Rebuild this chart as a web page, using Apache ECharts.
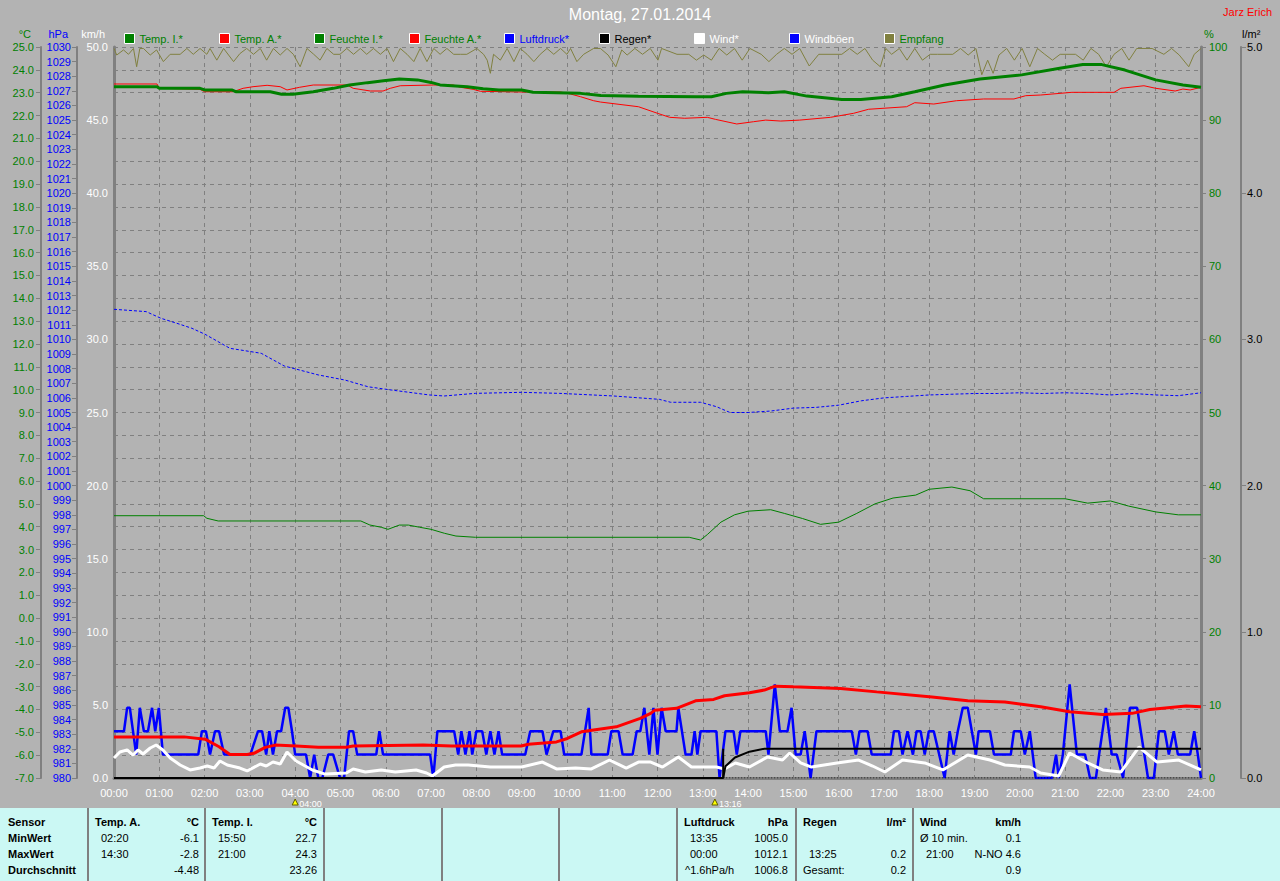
<!DOCTYPE html>
<html><head><meta charset="utf-8">
<script src="https://cdn.jsdelivr.net/npm/echarts@6/dist/echarts.min.js"></script>
<style>html,body{margin:0;padding:0;background:#b3b3b3;}#c{width:1280px;height:881px;}</style>
</head><body><div id="c"></div>
<script>
// ===== DATA =====
const titleText = 'Montag, 27.01.2014';
const ownerText = 'Jarz Erich';
// [hour, °C]
const tempInnen = [[0,23.26],[0.95,23.26],[1.0,23.19],[1.9,23.19],[2.0,23.12],[2.6,23.12],[2.7,23.04],[3.45,23.04],[3.7,22.93],[3.95,22.93],[4.4,23.04],[4.84,23.19],[5.2,23.34],[5.6,23.44],[5.95,23.52],[6.3,23.6],[6.7,23.56],[7.0,23.45],[7.2,23.34],[7.8,23.26],[8.15,23.17],[8.5,23.12],[9.0,23.12],[9.25,23.02],[10.3,22.97],[10.75,22.88],[11.58,22.84],[12.86,22.82],[13.19,22.82],[13.52,22.97],[13.88,23.04],[14.45,23.0],[14.8,23.04],[15.3,22.85],[16.07,22.7],[16.49,22.7],[17.17,22.82],[17.68,23.04],[18.34,23.34],[19.12,23.6],[20.04,23.78],[20.88,24.07],[21.39,24.23],[21.81,24.23],[22.32,23.99],[23.0,23.56],[23.6,23.34],[24.0,23.24]];
const tempAussen = [[0,-5.2],[1.55,-5.2],[2.01,-5.3],[2.32,-5.63],[2.56,-5.97],[2.94,-5.97],[3.09,-5.92],[3.34,-5.66],[3.56,-5.56],[4.02,-5.6],[4.51,-5.65],[5.13,-5.65],[5.28,-5.6],[6.83,-5.56],[7.45,-5.6],[8.99,-5.6],[9.15,-5.52],[9.77,-5.42],[10.01,-5.27],[10.32,-4.98],[11.09,-4.76],[11.62,-4.39],[11.85,-4.17],[11.94,-4.03],[12.42,-3.95],[12.84,-3.62],[13.24,-3.56],[13.48,-3.4],[14.03,-3.27],[14.36,-3.15],[14.6,-2.98],[15.0,-3.01],[16.04,-3.08],[16.84,-3.23],[18.06,-3.45],[18.85,-3.62],[19.67,-3.67],[20.46,-3.88],[21.1,-4.1],[21.83,-4.22],[22.48,-4.17],[22.87,-4.0],[23.67,-3.85],[24,-3.88]];
// [hour, %]
const feuchteInnen = [[0,35.88],[1.98,35.88],[2.05,35.53],[2.3,35.16],[5.45,35.16],[5.65,34.61],[5.9,34.3],[6.05,34.02],[6.3,34.6],[6.5,34.6],[6.75,34.3],[7.0,34.02],[7.3,33.47],[7.55,33.1],[7.98,32.93],[12.7,32.93],[12.95,32.56],[13.1,33.3],[13.4,35.0],[13.7,36.0],[14.0,36.5],[14.5,36.7],[14.8,36.2],[15.2,35.5],[15.6,34.7],[16.0,35.0],[16.4,36.2],[16.8,37.5],[17.2,38.3],[17.7,38.7],[18.0,39.5],[18.5,39.8],[18.9,39.3],[19.2,38.2],[21.0,38.2],[21.5,37.6],[22.0,37.9],[22.4,37.2],[23.0,36.4],[23.5,36.0],[24.0,36.0]];
const feuchteAussen = [[0,94.94],[0.95,94.94],[1.0,94.35],[1.9,94.21],[2.0,93.88],[2.63,93.88],[2.85,94.35],[3.07,94.57],[3.38,94.76],[3.67,94.57],[3.82,94.12],[4.1,94.49],[4.4,94.8],[5.15,94.8],[5.28,94.35],[5.66,93.98],[5.94,93.98],[6.1,94.35],[6.32,94.7],[7.05,94.8],[7.49,94.8],[7.65,94.49],[7.93,94.21],[8.09,93.94],[9.04,93.84],[9.86,93.84],[10.08,93.57],[10.3,93.2],[10.59,92.65],[10.74,92.47],[11.58,91.83],[12.0,90.93],[12.27,90.38],[12.6,90.25],[13.1,90.38],[13.28,90.1],[13.75,89.47],[14.12,89.78],[14.39,90.0],[14.72,89.87],[15.14,90.0],[15.82,90.38],[16.33,90.93],[16.66,91.48],[17.5,91.83],[17.68,92.38],[18.1,92.2],[18.6,92.65],[19.2,92.89],[19.87,92.89],[20.13,93.34],[20.46,93.43],[21.15,93.8],[22.08,93.8],[22.23,94.35],[22.74,94.7],[23.0,94.35],[23.43,93.98],[23.6,94.25],[23.76,94.12],[24,94.49]];
// [hour, hPa]
const luftdruck = [[0,1012.06],[0.71,1011.9],[1.04,1011.44],[1.39,1011.1],[1.72,1010.76],[2.01,1010.35],[2.56,1009.39],[3.25,1009.05],[3.76,1008.18],[4.51,1007.57],[5.1,1007.22],[5.61,1006.76],[6.12,1006.54],[6.96,1006.2],[7.29,1006.13],[7.98,1006.31],[8.99,1006.38],[9.83,1006.31],[11.03,1006.13],[12.04,1005.9],[12.29,1005.7],[12.95,1005.7],[13.3,1005.4],[13.6,1005.0],[14.0,1005.0],[14.5,1005.1],[15.0,1005.3],[15.5,1005.35],[16.0,1005.5],[16.5,1005.8],[17.0,1006.0],[17.5,1006.1],[18.0,1006.2],[18.5,1006.25],[19.0,1006.3],[19.5,1006.3],[20.0,1006.35],[20.5,1006.3],[21.0,1006.35],[21.5,1006.3],[22.0,1006.2],[22.5,1006.3],[23.0,1006.2],[23.5,1006.15],[24.0,1006.35]];
// [hour, l/m²]
const regen = [[0,0],[13.45,0],[13.5,0.08],[13.71,0.14],[14.03,0.18],[14.36,0.2],[24,0.2]];
const regenStart = 13.45;
const regenMenge = 0.2;
// [hour, km/h]
const wind = [[0,1.37],[0.13,1.78],[0.29,1.92],[0.42,1.57],[0.53,1.92],[0.64,1.64],[0.8,2.05],[0.93,2.26],[1.08,1.92],[1.24,1.37],[1.46,0.89],[1.68,0.55],[1.9,0.68],[2.06,0.82],[2.21,0.68],[2.34,1.16],[2.5,0.89],[2.78,0.68],[2.94,0.48],[3.23,0.96],[3.36,0.82],[3.51,1.09],[3.67,0.96],[3.82,1.78],[4.02,1.16],[4.22,0.82],[4.38,0.55],[4.66,0.27],[5.13,0.34],[5.28,0.62],[5.55,0.41],[5.9,0.55],[6.21,0.41],[6.67,0.55],[6.9,0.34],[7.03,0.14],[7.29,0.75],[7.54,0.89],[7.82,0.89],[8.31,0.75],[9.0,0.75],[9.46,1.09],[9.77,0.62],[10.19,0.68],[10.54,0.62],[10.94,1.23],[11.31,0.68],[11.58,1.09],[11.85,1.09],[12.11,0.75],[12.46,1.44],[12.75,0.75],[13.3,0.75],[13.48,0.62],[13.72,1.03],[14.03,0.75],[14.43,1.44],[14.76,1.23],[14.92,1.71],[15.16,1.03],[15.4,0.75],[15.96,1.03],[16.44,1.23],[16.75,0.82],[17.02,0.41],[17.41,1.23],[17.9,1.03],[18.3,0.55],[18.85,1.57],[19.34,1.23],[19.67,0.89],[20.22,0.75],[20.46,0.34],[20.86,0.14],[21.1,1.71],[21.5,1.03],[21.83,0.55],[22.23,0.41],[22.63,2.12],[23.03,1.09],[23.51,1.23],[24.0,0.55]];
const windboeen = [[0,3.2],[0.22,3.2],[0.29,4.8],[0.35,4.8],[0.49,1.6],[0.57,4.8],[0.66,3.2],[0.75,3.2],[0.84,4.8],[0.91,3.2],[0.99,4.8],[1.08,1.6],[1.86,1.6],[1.94,3.2],[2.03,3.2],[2.12,1.6],[2.23,3.2],[2.32,3.2],[2.43,1.6],[3.01,1.6],[3.18,3.2],[3.27,3.2],[3.36,1.6],[3.43,3.2],[3.51,1.6],[3.6,3.2],[3.69,3.2],[3.78,4.8],[3.85,4.8],[3.93,3.2],[4.0,1.6],[4.24,1.6],[4.33,0],[4.42,1.6],[4.51,0],[4.6,0],[4.73,1.6],[4.84,1.6],[4.99,0],[5.08,0],[5.19,3.2],[5.28,3.2],[5.37,1.6],[5.79,1.6],[5.86,3.2],[5.94,1.6],[6.98,1.6],[7.05,0],[7.14,3.2],[7.51,3.2],[7.6,1.6],[7.67,3.2],[7.76,1.6],[7.85,3.2],[7.91,1.6],[8.0,3.2],[8.13,3.2],[8.22,1.6],[8.31,3.2],[8.4,1.6],[8.49,3.2],[8.57,1.6],[9.08,1.6],[9.19,3.2],[9.46,3.2],[9.55,1.6],[9.7,3.2],[9.86,3.2],[9.94,1.6],[10.32,1.6],[10.48,4.8],[10.54,1.6],[10.9,1.6],[10.98,3.2],[11.14,3.2],[11.23,1.6],[11.45,1.6],[11.54,3.2],[11.62,3.2],[11.71,4.8],[11.82,1.6],[11.91,4.8],[12.0,1.6],[12.09,4.8],[12.18,3.2],[12.42,3.2],[12.46,4.8],[12.62,1.6],[12.75,1.6],[12.82,3.2],[12.88,1.6],[12.95,3.2],[13.3,3.2],[13.37,0],[13.5,3.2],[13.68,3.2],[13.75,1.6],[13.83,3.2],[14.39,3.2],[14.45,1.6],[14.59,6.4],[14.7,3.2],[14.87,3.2],[14.96,4.8],[15.05,1.6],[15.16,1.6],[15.25,3.2],[15.38,0],[15.51,3.2],[16.29,3.2],[16.38,1.6],[16.46,3.2],[16.64,3.2],[16.73,1.6],[17.15,1.6],[17.22,3.2],[17.33,3.2],[17.41,1.6],[17.52,3.2],[17.64,1.6],[17.72,3.2],[17.81,3.2],[17.9,1.6],[17.99,3.2],[18.1,3.2],[18.34,0],[18.45,3.2],[18.54,1.6],[18.63,3.2],[18.74,4.8],[18.85,4.8],[19.03,1.6],[19.09,3.2],[19.34,3.2],[19.43,1.6],[19.8,1.6],[19.87,3.2],[20.02,3.2],[20.11,1.6],[20.22,3.2],[20.35,0],[20.71,0],[20.8,1.6],[20.86,0],[20.95,1.6],[21.1,6.4],[21.26,1.6],[21.44,1.6],[21.55,0],[21.68,0],[21.75,1.6],[21.9,4.8],[22.03,1.6],[22.14,1.6],[22.28,0],[22.43,4.8],[22.59,4.8],[22.67,3.2],[22.83,0],[22.96,0],[23.07,3.2],[23.2,3.2],[23.29,1.6],[23.4,3.2],[23.49,1.6],[23.76,1.6],[23.85,3.2],[23.93,1.6],[24.0,0]];
// [hour, %] reception quality
const empfang = [[0,99.8],[0.06,98.9],[0.21,99.6],[0.32,99.0],[0.43,99.8],[0.5,97.3],[0.57,99.8],[0.65,99.8],[0.8,98.9],[0.94,99.6],[1.09,98.0],[1.24,99.0],[1.46,99.0],[1.61,99.8],[1.75,99.0],[1.9,99.8],[2.05,99.0],[2.12,99.8],[2.27,98.2],[2.42,99.8],[2.64,98.0],[2.78,99.1],[2.93,99.8],[3.08,99.0],[3.23,99.8],[3.37,98.2],[3.52,99.8],[3.67,98.9],[3.82,99.8],[3.96,99.0],[4.11,97.3],[4.26,99.8],[4.41,99.0],[4.55,98.2],[4.7,99.8],[4.85,99.0],[4.99,99.0],[5.14,99.8],[5.29,99.0],[5.44,99.8],[5.58,99.0],[5.73,99.8],[5.88,99.0],[6.03,99.8],[6.17,98.0],[6.32,99.8],[6.47,99.0],[6.62,98.0],[6.76,99.8],[6.91,98.0],[7.06,99.8],[7.2,99.0],[7.35,99.8],[7.5,99.0],[7.65,99.0],[7.79,99.0],[8.01,99.8],[8.16,99.0],[8.24,98.2],[8.31,96.4],[8.38,99.0],[8.53,98.2],[8.68,99.8],[8.83,98.0],[8.97,99.8],[9.12,99.0],[9.27,98.0],[9.41,99.0],[9.56,99.8],[9.71,99.0],[9.86,99.8],[10.0,99.0],[10.08,99.8],[10.22,98.0],[10.37,99.0],[10.59,99.8],[10.74,99.8],[10.91,98.9],[11.08,97.3],[11.21,99.6],[11.33,98.9],[11.5,99.8],[11.67,99.0],[11.84,99.8],[12.01,98.2],[12.09,99.8],[12.43,99.0],[12.69,99.0],[12.86,98.2],[13.02,98.9],[13.19,98.2],[13.36,99.8],[13.53,98.9],[13.7,99.8],[13.87,98.2],[14.04,99.8],[14.29,99.0],[14.46,98.0],[14.63,99.0],[14.8,99.8],[14.97,99.0],[15.14,99.8],[15.35,97.4],[15.56,99.0],[16.07,99.0],[16.24,99.8],[16.41,99.0],[16.58,99.8],[16.75,98.2],[16.92,97.3],[17.04,99.8],[17.17,99.0],[17.34,99.8],[17.51,98.2],[17.68,99.8],[17.85,98.2],[18.02,99.0],[18.18,99.0],[18.52,99.0],[18.69,99.8],[18.86,98.9],[19.03,99.8],[19.16,96.2],[19.29,98.2],[19.41,96.4],[19.54,98.9],[19.71,99.8],[19.88,98.2],[20.05,99.8],[20.22,97.3],[20.39,99.8],[20.55,99.0],[20.72,98.2],[20.89,99.0],[21.23,99.0],[21.4,98.2],[21.57,99.8],[21.74,99.0],[21.91,97.3],[22.08,99.0],[22.25,99.8],[22.41,98.2],[22.58,99.8],[22.92,99.8],[23.18,99.0],[23.35,99.8],[23.52,98.9],[23.73,97.3],[23.85,99.0],[24.0,99.8]];

// axis ranges / ticks
const hourTicks = {min: 0, max: 24, step: 1};
const celsiusAxis = {min: -7, max: 25, step: 1};
const hpaAxis = {min: 980, max: 1030, step: 1};
const kmhAxis = {min: 0, max: 50, step: 5};
const pctAxis = {min: 0, max: 100, step: 10};
const rainAxis = {min: 0, max: 5, step: 1};

// legend entries
const legendNames = ['Temp. I.*','Temp. A.*','Feuchte I.*','Feuchte A.*','Luftdruck*','Regen*','Wind*','Windböen','Empfang'];

// event markers under the time axis
const eventMarks = [{t: 4.0, label: '04:00'}, {t: 13.267, label: '13:16'}];

// statistics table
const sensorLabels = ['Sensor','MinWert','MaxWert','Durchschnitt'];
const statBlocks = [
  {head: ['Temp. A.','°C'], rows: [['02:20','-6.1'],['14:30','-2.8'],['','-4.48']]},
  {head: ['Temp. I.','°C'], rows: [['15:50','22.7'],['21:00','24.3'],['','23.26']]},
  {head: ['Luftdruck','hPa'], rows: [['13:35','1005.0'],['00:00','1012.1'],['^1.6hPa/h','1006.8']]},
  {head: ['Regen','l/m²'], rows: [['',''],['13:25','0.2'],['Gesamt:','0.2']]},
  {head: ['Wind','km/h'], rows: [['Ø 10 min.','0.1'],['21:00','N-NO 4.6'],['','0.9']]}
];

// ===== STYLE / LAYOUT =====
const F = "'Liberation Sans', Arial, sans-serif";
const BG = '#b3b3b3';
const GRIDC = '#808080';
const GREEN = '#008000', RED = '#ff0000', BLUE = '#0000ff', OLIVE = '#808040';
const legendColors = {
  'Temp. I.*': [GREEN, GREEN], 'Temp. A.*': [RED, GREEN], 'Feuchte I.*': [GREEN, GREEN],
  'Feuchte A.*': [RED, GREEN], 'Luftdruck*': [BLUE, BLUE], 'Regen*': ['#000', '#000'],
  'Wind*': ['#fff', '#fff'], 'Windböen': [BLUE, '#fff'], 'Empfang': [OLIVE, GREEN]
};

const chart = echarts.init(document.getElementById('c'), null, {renderer: 'svg'});

function yAx(cfg, ax, opts) {
  return Object.assign({
    type: 'value', min: ax.min, max: ax.max, interval: ax.step,
    nameLocation: 'end', nameGap: 8,
    axisLine: {show: true, onZero: false, lineStyle: {color: GRIDC, width: 2}},
    axisTick: {show: true, length: 5, lineStyle: {color: GRIDC}},
    splitLine: {show: false},
    axisLabel: {fontFamily: F, fontSize: 11, margin: 7}
  }, cfg, opts);
}

const line = (name, data, yIdx, color, width, extra) => Object.assign({
  name, type: 'line', data, yAxisIndex: yIdx, xAxisIndex: 0,
  showSymbol: false, symbol: 'none', animation: false,
  lineStyle: {color, width}, itemStyle: {color}
}, extra || {});

const option = {
  backgroundColor: BG,
  animation: false,
  title: [
    {text: titleText, left: 'center', top: 6, padding: 0, textStyle: {color: '#fff', fontSize: 16, fontWeight: 'normal', fontFamily: F}},
    {text: ownerText, right: 8, top: 6, padding: 0, textStyle: {color: '#ff0000', fontSize: 11, fontWeight: 'normal', fontFamily: F}}
  ],
  legend: legendNames.map((n, i) => ({
    left: 124 + 95 * i, top: 33, padding: 0, itemWidth: 10, itemHeight: 10, itemGap: 0,
    selectedMode: false, icon: 'rect',
    itemStyle: {color: legendColors[n][0], borderColor: '#fff', borderWidth: 1},
    textStyle: {color: legendColors[n][1], fontSize: 11, fontFamily: F, padding: [0, 0, 0, 0]},
    data: [{name: n}]
  })),
  grid: {left: 114, right: 79, top: 47, bottom: 103, containLabel: false},
  xAxis: [
    {type: 'value', min: hourTicks.min, max: hourTicks.max, interval: hourTicks.step,
      axisLine: {show: false}, axisTick: {show: false},
      axisLabel: {color: '#fff', fontFamily: F, fontSize: 11, margin: 9,
        formatter: v => String(v).padStart(2, '0') + ':00'},
      splitLine: {show: true, lineStyle: {color: GRIDC, type: [4, 4], width: 1}}},
    {type: 'value', position: 'top', min: hourTicks.min, max: hourTicks.max,
      axisLine: {show: true, lineStyle: {color: GRIDC, width: 3}},
      axisTick: {show: false}, axisLabel: {show: false}, splitLine: {show: false}}
  ],
  yAxis: [
    yAx({name: '°C', position: 'left', offset: 73,
      nameTextStyle: {color: GREEN, fontFamily: F, fontSize: 11, align: 'right', padding: [0, 10, 0, 0]},
      splitLine: {show: true, lineStyle: {color: GRIDC, type: [4, 4], width: 1}}},
      celsiusAxis, {axisLabel: {color: GREEN, fontFamily: F, fontSize: 11, margin: 7, formatter: v => v.toFixed(1)}}),
    yAx({name: 'hPa', position: 'left', offset: 37,
      nameTextStyle: {color: BLUE, fontFamily: F, fontSize: 11, align: 'right', padding: [0, 9, 0, 0]}},
      hpaAxis, {axisLabel: {color: BLUE, fontFamily: F, fontSize: 11, margin: 6, formatter: v => String(v)}}),
    yAx({name: 'km/h', position: 'left', offset: 0,
      nameTextStyle: {color: '#fff', fontFamily: F, fontSize: 11, align: 'right', padding: [0, 9, 0, 0]}},
      kmhAxis, {axisLine: {show: true, onZero: false, lineStyle: {color: GRIDC, width: 3}},
        axisTick: {show: false},
        axisLabel: {color: '#fff', fontFamily: F, fontSize: 11, margin: 6, formatter: v => v.toFixed(1)}}),
    yAx({name: '%', position: 'right', offset: 0,
      nameTextStyle: {color: GREEN, fontFamily: F, fontSize: 11, align: 'left', padding: [0, 0, 0, 3]}},
      pctAxis, {axisLine: {show: true, onZero: false, lineStyle: {color: GRIDC, width: 3}},
        axisLabel: {color: GREEN, fontFamily: F, fontSize: 11, margin: 8, formatter: v => String(v)}}),
    yAx({name: 'l/m²', position: 'right', offset: 40,
      nameTextStyle: {color: '#000', fontFamily: F, fontSize: 11, align: 'left', padding: [0, 0, 0, 1]}},
      rainAxis, {axisLabel: {color: '#000', fontFamily: F, fontSize: 11, margin: 6, formatter: v => v.toFixed(1)}})
  ],
  series: [
    line('Empfang', empfang, 3, OLIVE, 1),
    line('Luftdruck*', luftdruck, 1, BLUE, 1, {lineStyle: {color: BLUE, width: 1, type: [3, 2]}}),
    line('Feuchte I.*', feuchteInnen, 3, GREEN, 1),
    line('Feuchte A.*', feuchteAussen, 3, RED, 1),
    line('Temp. I.*', tempInnen, 0, GREEN, 3),
    line('Windböen', windboeen, 2, BLUE, 2.5),
    line('Wind*', wind, 2, '#ffffff', 3),
    line('Temp. A.*', tempAussen, 0, RED, 3),
    line('Regen*', regen, 4, '#000000', 2),
    line('RegenRate', [[regenStart, 0], [regenStart, regenMenge]], 4, '#000000', 2),
    line('RegenNull', [[regenStart, 0], [hourTicks.max, 0]], 4, '#000000', 1, {lineStyle: {color: '#000', width: 1, type: [1, 2]}})
  ]
};
chart.setOption(option);

// ===== graphics: event markers + statistics table =====
const g = [];
eventMarks.forEach(m => {
  const px = chart.convertToPixel({xAxisIndex: 0}, m.t);
  g.push({type: 'polygon', shape: {points: [[px - 3, 805], [px + 3, 805], [px, 799]]},
    style: {fill: '#ffff00', stroke: '#606000', lineWidth: 1}, z: 10});
  g.push({type: 'text', x: px + 4, y: 804, z: 10,
    style: {text: m.label, fill: '#fff', font: '9px ' + F, textVerticalAlign: 'middle'}});
});

const tableTop = 808, rowY = [822, 838, 854, 870];
g.push({type: 'rect', shape: {x: 0, y: tableTop, width: 1280, height: 881 - tableTop}, style: {fill: '#cbf8f4'}, z: 1});
[88, 205, 324, 442, 559, 677, 796, 913].forEach(x => g.push({type: 'line', z: 2,
  shape: {x1: x, y1: tableTop, x2: x, y2: 881}, style: {stroke: GRIDC, lineWidth: 2}}));
const txt = (s, x, y, bold, align) => g.push({type: 'text', x, y, z: 3,
  style: {text: s, fill: '#000', font: (bold ? 'bold ' : '') + '11px ' + F, textAlign: align || 'left', textVerticalAlign: 'middle'}});
sensorLabels.forEach((s, i) => txt(s, 8, rowY[i], true));
const blockX = [[95, 199], [212, 317], [684, 788], [803, 906], [920, 1021]];
statBlocks.forEach((b, bi) => {
  const [lx, rx] = blockX[bi];
  txt(b.head[0], lx, rowY[0], true);
  txt(b.head[1], rx, rowY[0], true, 'right');
  b.rows.forEach((r, ri) => {
    const indent = /^\d/.test(r[0]) ? 6 : (r[0].startsWith('^') ? 1 : 0);
    if (r[0]) txt(r[0], lx + indent, rowY[ri + 1], false);
    if (r[1]) txt(r[1], rx, rowY[ri + 1], false, 'right');
  });
});
chart.setOption({graphic: g});
</script></body></html>
